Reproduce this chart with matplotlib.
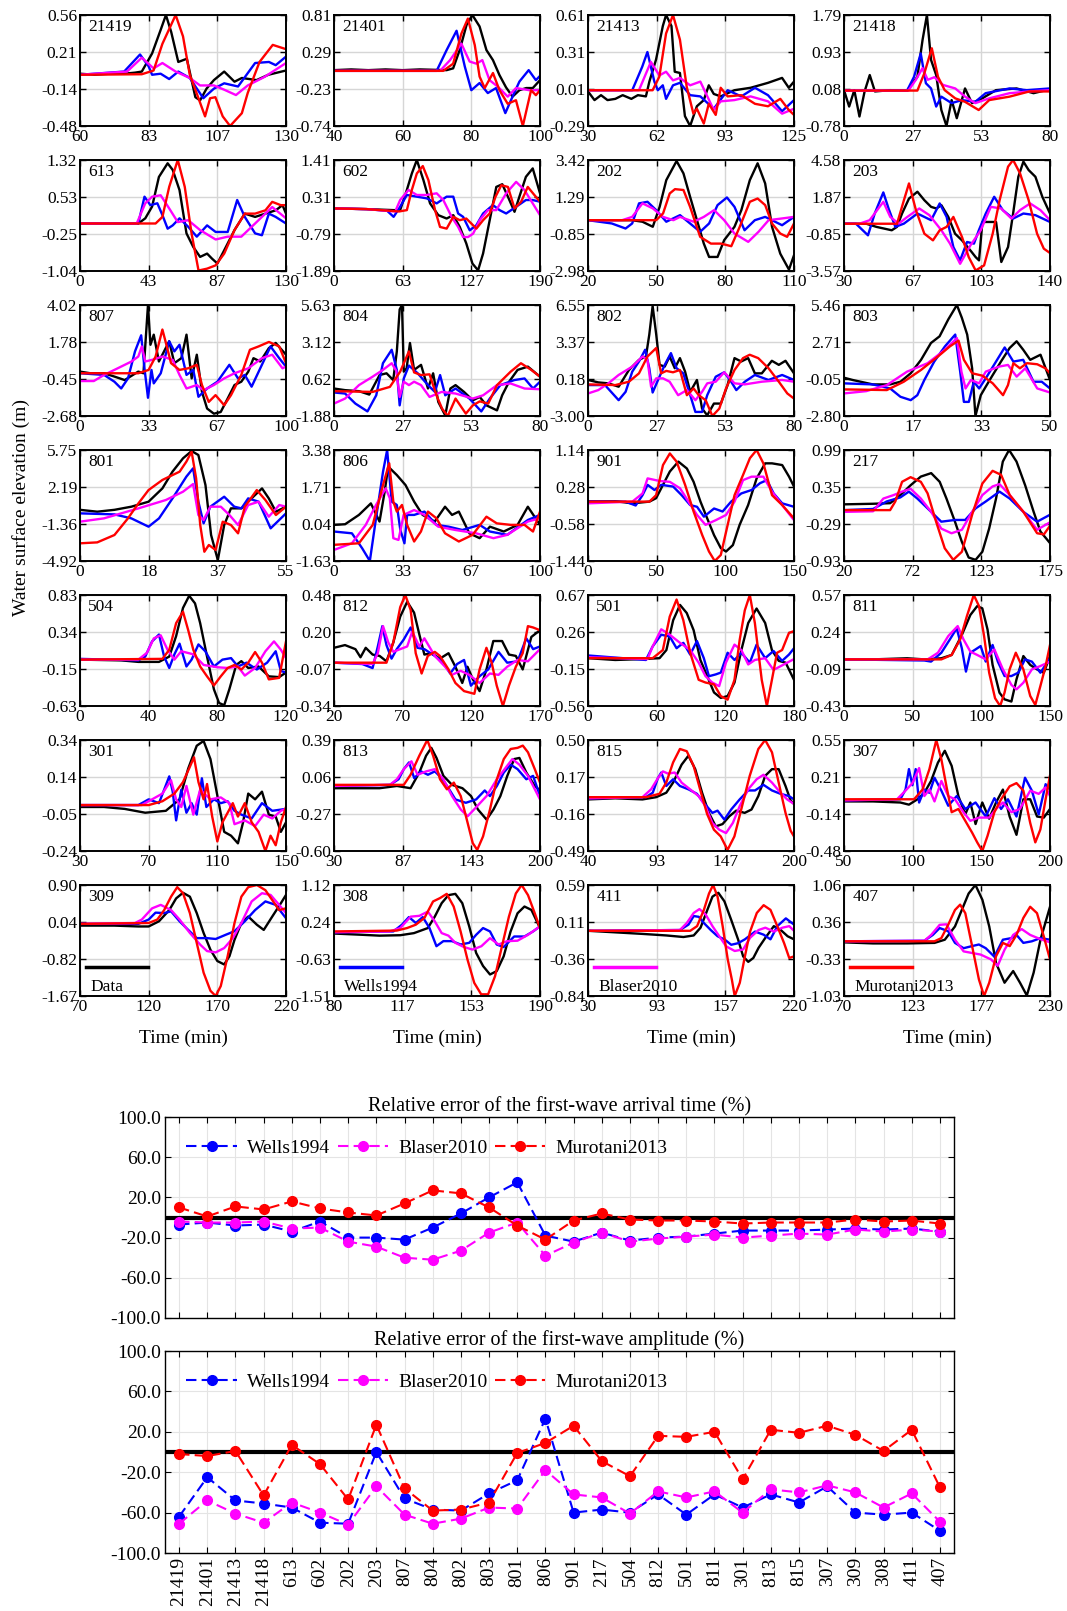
import matplotlib.pyplot as plt
import numpy as np

plt.rcParams['font.family'] = ['Liberation Serif', 'DejaVu Serif']

# station order, row by row in the grid (also the x order of the error plots)
stations = ['21419', '21401', '21413', '21418',
            '613', '602', '202', '203',
            '807', '804', '802', '803',
            '801', '806', '901', '217',
            '504', '812', '501', '811',
            '301', '813', '815', '307',
            '309', '308', '411', '407']

x_ticks = [[60, 83, 107, 130], [40, 60, 80, 100], [30, 62, 93, 125], [0, 27, 53, 80],
           [0, 43, 87, 130], [0, 63, 127, 190], [20, 50, 80, 110], [30, 67, 103, 140],
           [0, 33, 67, 100], [0, 27, 53, 80], [0, 27, 53, 80], [0, 17, 33, 50],
           [0, 18, 37, 55], [0, 33, 67, 100], [0, 50, 100, 150], [20, 72, 123, 175],
           [0, 40, 80, 120], [20, 70, 120, 170], [0, 60, 120, 180], [0, 50, 100, 150],
           [30, 70, 110, 150], [30, 87, 143, 200], [40, 93, 147, 200], [50, 100, 150, 200],
           [70, 120, 170, 220], [80, 117, 153, 190], [30, 93, 157, 220], [70, 123, 177, 230]]

y_ticks = [[-0.48, -0.14, 0.21, 0.56], [-0.74, -0.23, 0.29, 0.81], [-0.29, 0.01, 0.31, 0.61], [-0.78, 0.08, 0.93, 1.79],
           [-1.04, -0.25, 0.53, 1.32], [-1.89, -0.79, 0.31, 1.41], [-2.98, -0.85, 1.29, 3.42], [-3.57, -0.85, 1.87, 4.58],
           [-2.68, -0.45, 1.78, 4.02], [-1.88, 0.62, 3.12, 5.63], [-3.00, 0.18, 3.37, 6.55], [-2.80, -0.05, 2.71, 5.46],
           [-4.92, -1.36, 2.19, 5.75], [-1.63, 0.04, 1.71, 3.38], [-1.44, -0.58, 0.28, 1.14], [-0.93, -0.29, 0.35, 0.99],
           [-0.63, -0.15, 0.34, 0.83], [-0.34, -0.07, 0.20, 0.48], [-0.56, -0.15, 0.26, 0.67], [-0.43, -0.09, 0.24, 0.57],
           [-0.24, -0.05, 0.14, 0.34], [-0.60, -0.27, 0.06, 0.39], [-0.49, -0.16, 0.17, 0.50], [-0.48, -0.14, 0.21, 0.55],
           [-1.67, -0.82, 0.04, 0.90], [-1.51, -0.63, 0.24, 1.12], [-0.84, -0.36, 0.11, 0.59], [-1.03, -0.33, 0.36, 1.06]]

# time series, flat lists of (time, elevation) pairs
# obs = Data, wel = Wells1994, bla = Blaser2010, mur = Murotani2013
obs_21419 = [60,0.01, 65,0.0, 70,0.01, 75,0.01, 78.7,0.02, 81,0.03, 84.5,0.2, 87.4,0.42, 89.2,0.56, 91,0.4, 93.4,0.12, 96.3,0.15, 99.2,-0.21, 100.8,-0.24, 103,-0.13, 105.5,-0.05, 109,0.03, 112.5,-0.065, 115,-0.03, 120,-0.05, 124,0.0, 130,0.04]
wel_21419 = [60,0, 75,0.03, 80.4,0.19, 83.3,0.08, 84.5,0, 87.4,0.01, 90.3,-0.04, 93.4,0.03, 97.3,-0.03, 101.9,-0.22, 105.5,-0.13, 109,-0.08, 113.7,-0.11, 119.5,0.11, 124.2,0.12, 126.5,0.09, 130,0.17]
bla_21419 = [60,0, 76,0.03, 81,0.16, 85,0.06, 88,0.11, 92.5,0.03, 97.3,-0.03, 100.8,-0.1, 105.5,-0.1, 109,-0.14, 113,-0.19, 117,-0.1, 122.7,-0.02, 130,0.11]
mur_21419 = [60,0, 81,0.005, 85,0.04, 88,0.29, 92.5,0.56, 95,0.36, 97.3,0, 99.2,-0.14, 102.5,-0.39, 104.2,-0.22, 106,-0.21, 108.5,-0.39, 111,-0.48, 115,-0.36, 117,-0.17, 121,0.12, 125.5,0.28, 130,0.24]

obs_21401 = [40,0.04, 45,0.05, 50,0.04, 55,0.05, 60,0.04, 65,0.05, 72.8,0.04, 74.7,0.065, 76.6,0.32, 78.6,0.67, 80.3,0.81, 82.4,0.65, 84.4,0.32, 86.3,0.18, 88.2,-0.03, 90.1,-0.2, 92,-0.33, 94,-0.24, 96,-0.21, 97.9,-0.21, 100,-0.1]
wel_21401 = [40,0.03, 69.9,0.03, 72.8,0.32, 75.7,0.59, 78.1,0.09, 80,-0.24, 82.4,-0.14, 84.8,-0.28, 87.2,-0.21, 89.9,-0.56, 92,-0.33, 94,-0.12, 96.7,0.04, 98.8,-0.1, 100,-0.04]
bla_21401 = [40,0.03, 70.9,0.03, 73.8,0.18, 77.1,0.41, 79.5,0.16, 81.5,0.13, 83.2,0.18, 85.3,-0.1, 87.7,-0.19, 90.6,-0.33, 93,-0.21, 96.9,-0.24, 100,-0.24]
mur_21401 = [40,0.03, 71.8,0.03, 74.7,0.13, 77.1,0.55, 79,0.76, 81,0.39, 82.4,-0.05, 83.9,-0.21, 86.3,0.0, 88.2,-0.24, 90.6,-0.43, 93,-0.38, 95,-0.74, 97.4,-0.24, 98.8,-0.31, 100,-0.24]

obs_21413 = [30,-0.01, 33,-0.08, 36,-0.04, 39,-0.08, 42.6,-0.07, 46,-0.04, 50,-0.07, 53,-0.04, 56.7,-0.05, 58.3,0.07, 61.4,0.25, 64.5,0.52, 66,0.61, 68.5,0.52, 70,0.15, 72.4,0.14, 74.7,-0.21, 77.1,-0.29, 80.2,-0.13, 83.4,-0.08, 85.7,0.04, 88,-0.03, 91.2,-0.05, 97.5,0.0, 105,0.02, 113,0.06, 119.5,0.1, 122.6,0.02, 125,0.07]
wel_21413 = [30,0, 50.4,0, 55,0.19, 57.4,0.31, 60.6,0.07, 62.2,0, 64.5,0.04, 66,-0.07, 69.2,0.04, 72.4,0.06, 77.1,-0.04, 81.8,-0.05, 88,-0.15, 94.4,0, 100.7,-0.05, 107,0.02, 113,-0.04, 119.5,-0.17, 125,-0.08]
bla_21413 = [30,0, 53.5,0, 59,0.23, 62.9,0.12, 66,0.15, 69.2,0.08, 72.4,0.1, 77.1,0.04, 81.8,0.07, 88,-0.16, 91.2,-0.09, 97.5,-0.08, 105,-0.05, 113,-0.09, 119.5,-0.19, 125,-0.15]
mur_21413 = [30,0, 59.8,0, 62.9,0.11, 66,0.46, 69.2,0.61, 72.4,0.41, 75.5,0.03, 78.6,-0.19, 80.2,-0.15, 83.4,-0.27, 85.7,-0.11, 88.9,-0.2, 91.2,0.02, 94.4,-0.05, 100.7,-0.04, 107,-0.11, 113,-0.13, 118.7,-0.07, 122.6,-0.16, 125,-0.2]

obs_21418 = [0,0.05, 2,-0.33, 4,0.05, 6,-0.56, 8,0.02, 10,0.4, 12,0.02, 18,0.05, 24.5,0.04, 28.5,0.36, 30.5,1.21, 32.2,1.79, 33.8,0.75, 35.8,0.4, 37.8,-0.41, 39.8,-0.78, 41.8,-0.18, 43.8,-0.6, 47,0.09, 49.7,-0.25, 53.7,-0.14, 59,0.05, 67,0.09, 73.6,-0.02, 80,0.07]
wel_21418 = [0,0.04, 24.5,0.04, 27.2,0.36, 29.8,0.9, 31.8,0.21, 33.8,0.09, 35.8,-0.33, 37.8,-0.1, 41.8,-0.25, 45.8,-0.18, 51,-0.22, 55,-0.02, 64.3,0.09, 71,0.05, 80,0.09]
bla_21418 = [0,0.04, 25,0.04, 27.9,0.29, 30.5,0.56, 32.5,0.29, 35.1,0.35, 38.5,0.17, 43.2,0.09, 47,-0.1, 51,-0.25, 56.4,-0.14, 64.3,-0.02, 72,0.02, 80,0.05]
mur_21418 = [0,0.04, 28.5,0.04, 31.2,0.44, 34.1,1.02, 36.5,0.36, 39.1,0.05, 43.2,-0.14, 47,-0.22, 52.3,-0.41, 56.4,-0.18, 64.3,-0.1, 72,0.02, 80,0.02]

obs_613 = [0,-0.03, 20,-0.03, 36.8,-0.03, 41.2,0.08, 45.5,0.33, 49.8,0.96, 55.3,1.25, 58.5,1.11, 62.8,0.68, 67.2,-0.24, 71.5,-0.53, 75.8,-0.74, 80.2,-0.67, 83.4,-0.78, 86.7,-0.88, 91,-0.6, 97.5,-0.17, 104,0.18, 110.5,0.11, 117,0.18, 123.5,0.25, 127.8,0.36, 130,0.18]
wel_613 = [0,-0.03, 36.8,-0.03, 40.7,0.54, 44.4,0.36, 48.8,0.4, 52,0.15, 55.3,-0.14, 58.5,-0.07, 62.8,0.08, 68.3,-0.1, 73.7,-0.31, 80.2,-0.07, 85.6,-0.21, 93.2,-0.21, 99.2,0.47, 104,0.11, 110.5,-0.24, 114.8,-0.28, 119.2,0.18, 123.5,0.11, 130,-0.03]
bla_613 = [0,-0.03, 35.8,-0.03, 41.2,0.4, 45.5,0.54, 50.9,0.57, 56.3,0.29, 61.7,0.0, 68.3,0.04, 75.8,-0.17, 85.6,-0.37, 93.2,-0.31, 101.8,-0.31, 110.5,-0.03, 121.3,0.32, 130,0.08]
mur_613 = [0,-0.03, 47.7,-0.03, 52,0.11, 56.3,0.75, 61.7,1.32, 66.1,0.75, 70.4,-0.24, 74.8,-1.03, 80.2,-0.99, 85.6,-0.92, 91,-0.67, 97.5,-0.17, 104,0.18, 110.5,0.18, 117,0.25, 121.3,0.43, 126.7,0.36, 130,0.36]

obs_602 = [0,-0.03, 30,-0.05, 55,-0.08, 61,-0.08, 67.2,0.52, 71.8,1.01, 76.4,1.41, 82.5,0.81, 88.6,0.12, 96.2,-0.23, 103.9,-0.33, 110,-0.23, 116,-0.58, 122,-1.07, 127.7,-1.67, 132.9,-1.87, 137.5,-1.37, 143.6,-0.38, 149.7,0.61, 155.2,0.69, 160.4,0.32, 166.5,-0.13, 171,0.32, 177,0.91, 183.3,1.16, 190,0.42]
wel_602 = [0,-0.03, 30,-0.05, 49,-0.1, 55,-0.28, 61,0.02, 67.2,0.37, 76.4,0.32, 85.5,0.27, 94.7,0.12, 103.9,0.32, 110,0.32, 114.5,-0.18, 119.1,-0.28, 125.2,-0.68, 131.3,-0.53, 137.5,-0.18, 146.6,0.07, 152.7,-0.08, 158.8,-0.18, 168,0.02, 177,0.22, 183.3,0.22, 190,0.17]
bla_602 = [0,-0.03, 30,-0.05, 56.5,-0.12, 61,0.22, 68.7,0.52, 76.4,0.37, 85.5,0.37, 94.7,0.42, 100.8,0.22, 108.5,-0.28, 114.5,-0.58, 119.1,-0.88, 123.6,-0.88, 128.3,-0.78, 134.4,-0.38, 142,-0.08, 149.7,-0.08, 158.8,0.42, 168,0.76, 175.6,0.52, 183.3,0.12, 190,-0.23]
mur_602 = [0,-0.03, 30,-0.05, 60,-0.12, 67.2,-0.08, 71.8,0.52, 76.4,1.01, 81.9,1.23, 87.1,0.81, 93.2,-0.08, 97.8,-0.58, 103.9,-0.63, 110,-0.28, 116,-0.38, 122,-0.33, 126.7,-0.48, 131.3,-0.63, 137.5,-0.38, 143.6,-0.18, 149,0.32, 154.3,0.66, 160.4,0.61, 166.5,-0.03, 172.6,0.17, 178.7,0.61, 184.8,0.37, 190,0.17]

obs_202 = [20,-0.05, 30,-0.05, 39.3,-0.05, 43.8,-0.14, 48.3,-0.43, 51.3,0.72, 54.2,2.26, 58.7,3.36, 61.7,2.65, 64.6,1.3, 67.6,-0.05, 70.6,-1.4, 72.9,-2.17, 76.6,-2.17, 79.5,-1.2, 84,-0.43, 87,0.53, 90.7,2.26, 94.1,3.23, 97.4,2.07, 100.4,-0.43, 104,-1.98, 107.8,-2.9, 110,-2.07]
wel_202 = [20,-0.05, 30.4,-0.24, 36.4,-0.53, 39.3,-0.24, 42.3,0.92, 46,1.01, 49.8,0.53, 54.2,-0.14, 60.2,0.24, 64.6,-0.24, 69,-0.72, 72.9,-0.24, 76.6,0.82, 80.7,1.26, 84,0.72, 88.4,-0.63, 92.9,-0.05, 97.4,0.14, 104.8,-0.34, 110,0.14]
bla_202 = [20,-0.05, 34.9,-0.05, 39.3,0.14, 43.8,0.92, 48.3,0.63, 52.8,0.14, 57.3,-0.05, 60.2,0.14, 66.2,-0.14, 70.6,0.14, 75.1,0.53, 79.5,-0.05, 84,-0.82, 90,-1.3, 94.5,-0.72, 98.9,-0.05, 104.8,0.05, 110,0.14]
mur_202 = [20,-0.05, 49.8,-0.05, 52.8,0.34, 55.7,1.49, 58,1.74, 61.7,1.69, 64.6,0.72, 69,-1.01, 73.7,-1.4, 78.1,-1.4, 82.6,-1.55, 86.3,-0.43, 90.7,1.01, 94.1,1.2, 97.4,0.82, 100.4,-0.24, 104,-0.82, 107,-1.01, 110,-0.24]

obs_203 = [30,-0.1, 41.9,-0.1, 47.3,-0.33, 55.5,-0.58, 58.3,-0.33, 61,0.65, 64.7,1.75, 69.2,2.25, 72.9,1.63, 76.5,1.14, 79.3,1.02, 82,1.26, 85.7,0.4, 89.3,-0.83, 93,-1.32, 97.5,-2.06, 100.3,-2.55, 102.1,-2.79, 103.9,0.03, 111.2,0.03, 114,-2.91, 117.6,-1.81, 120.3,0.65, 123.1,3.35, 125.8,4.46, 128.6,3.84, 132.2,3.35, 135.9,1.88, 140,0.65]
wel_203 = [30,-0.1, 36.4,-0.1, 42.8,-0.95, 46.4,0.65, 51,2.2, 53.8,1.02, 57.4,-0.33, 62,-0.09, 69.2,0.65, 76.5,0.16, 81.1,1.39, 84.8,0.4, 88.4,-1.81, 92,-2.79, 95.7,-1.44, 99.4,-1.56, 102,-0.58, 105.7,0.65, 110.2,1.88, 114.8,0.9, 120.3,0.28, 125.8,0.65, 132.2,0.53, 140,0.03]
bla_203 = [30,-0.1, 38.2,-0.1, 43.7,0.16, 51,1.51, 54.7,0.4, 59.2,-0.09, 63.8,0.4, 70.2,1.02, 75.6,0.53, 82,-0.58, 86.6,-1.56, 92,-3.04, 97.5,-1.69, 103,-0.58, 108.4,1.14, 113.9,1.02, 119.4,0.28, 124,0.9, 129.4,1.39, 134.9,0.9, 140,0.16]
mur_203 = [30,-0.1, 58.3,-0.1, 62,1.63, 64.7,2.86, 68.4,0.9, 72.9,-0.83, 77.5,-1.32, 81.1,-0.58, 84.8,-0.33, 88.4,0.4, 93,-1.07, 96.6,-2.55, 100.3,-3.53, 104.8,-3.16, 109.4,-0.83, 113.1,1.63, 117.6,4.09, 120.3,4.58, 124,3.6, 128.6,1.63, 133.1,-0.83, 136.7,-1.93, 140,-2.25]

obs_807 = [0,0.0, 5,-0.1, 11.7,-0.1, 16.7,-0.3, 21.7,-0.51, 28.3,0.0, 30.8,-0.1, 33,4.02, 34.2,1.62, 35.8,2.23, 38.3,0.61, 40.8,1.22, 43.3,1.83, 45.8,0.51, 49.2,0.81, 51.7,2.23, 54.2,-0.41, 56.7,1.02, 59.2,-1.22, 61.7,-2.23, 65,-2.54, 68.3,-2.44, 71.7,-1.62, 75,-0.81, 78.3,-0.61, 81.7,0.0, 84.2,0.81, 87.5,0.61, 91.7,1.42, 95,1.73, 100,1.02]
wel_807 = [0,-0.1, 11.7,-0.2, 16.7,-0.61, 20,-1.02, 23.3,-0.41, 26.7,1.22, 29.7,2.19, 31.3,0.2, 33,-1.58, 34.7,0.1, 35.8,-0.71, 39.2,-0.1, 43.3,1.83, 45.8,1.22, 48.3,1.62, 51.7,-0.2, 55,0.1, 57.5,-1.52, 61.7,-1.02, 66.7,-0.61, 72.5,0.41, 76.7,-0.41, 80,-0.2, 83.3,-0.91, 88.3,0.41, 92.5,1.52, 96.7,0.81, 100,0.3]
bla_807 = [0,-0.57, 6.7,-0.57, 11.7,-0.2, 18.3,0.2, 25,0.61, 28.3,0.91, 30,1.52, 31.7,0.61, 35,0.71, 40,0.91, 45,0.71, 48.3,-0.2, 51.7,-1.02, 56.7,-0.81, 60,-1.12, 65,-0.81, 70,-0.41, 75,-0.1, 81.7,0.2, 88.3,0.81, 93.3,1.02, 98.3,0.2, 100,0.3]
mur_807 = [0,-0.1, 28.3,-0.1, 33.3,0.1, 36.7,0.91, 40,2.54, 41.7,1.73, 44.2,0.51, 48.3,0.1, 52.5,0.2, 56.7,0.41, 59.2,-0.81, 62.5,-1.83, 65.8,-1.42, 70,-2.03, 73.3,-1.42, 78.3,-0.2, 82.5,1.32, 86.7,1.52, 91.7,1.79, 96.7,1.52, 100,0.51]

obs_804 = [0,-0.02, 4.3,-0.13, 9.7,-0.2, 13.7,-0.43, 17.7,0.89, 20.4,1.01, 23,0.55, 24.4,2.49, 25.5,5.33, 26.4,5.63, 27.1,1.12, 28.2,1.35, 29.5,3.06, 31.1,1.24, 33.8,1.58, 36.5,-0.02, 38.5,1.01, 40.5,-0.93, 43.2,-1.84, 45.2,-0.02, 47.2,0.21, 50.5,-0.25, 53.9,-0.82, 56.6,-0.59, 59.2,-1.16, 63.3,-1.5, 65.3,-0.48, 68,0.44, 71.3,1.24, 75.3,1.46, 80,0.78]
wel_804 = [0,-0.29, 4.3,-0.36, 8.3,-1.04, 13,-1.57, 16.4,-0.48, 19,1.69, 22.4,2.6, 24.4,1.24, 25.5,-1.16, 27.1,0.66, 29.1,1.53, 32.5,1.01, 36.5,0.21, 39.2,-0.25, 41.2,0.89, 43.2,-0.48, 47.2,-0.02, 52.6,-0.7, 57.2,-1.57, 60.5,-0.7, 64.6,0.21, 70,0.55, 74,0.66, 77.3,-0.02, 80,0.44]
bla_804 = [0,-1.04, 4.3,-0.7, 9.7,0.21, 15,0.78, 19,1.24, 22.4,1.69, 24.2,1.17, 25.5,-0.59, 27.1,0.44, 29.1,0.21, 31.1,0.44, 33.8,0.21, 37.1,-0.59, 41.8,-0.25, 47.2,-0.36, 53.9,-0.7, 57.9,-0.48, 63.3,0.21, 68.6,0.32, 74,-0.02, 80,-0.07]
mur_804 = [0,-0.2, 15,-0.25, 21.7,0.09, 25.7,1.12, 29.1,2.49, 31.1,1.07, 33.8,0.89, 37.1,0.94, 39.8,-0.48, 42,-1.39, 44.2,-1.88, 47.2,-0.7, 51.2,-1.72, 53.9,-1.16, 56.6,-0.89, 59.9,-1.04, 63.3,0.21, 68.6,1.12, 72.6,1.69, 76.6,1.24, 80,0.78]

obs_802 = [0,0.1, 4,-0.11, 7.9,-0.19, 11.9,-0.48, 15.9,0.96, 19.8,1.83, 22.5,2.12, 23.8,4.0, 25.1,6.46, 26.5,4.0, 27.8,1.4, 29.8,1.25, 31.7,2.12, 33.7,1.11, 35.7,1.98, 37.7,0.82, 39.7,-0.92, 42.3,0.1, 44.3,-2.36, 46.3,-2.94, 48.9,-1.93, 51.6,-1.93, 54.2,-0.34, 56.9,1.98, 59.5,1.69, 62.2,1.98, 64.8,0.67, 67.5,0.67, 71.4,1.75, 74.1,1.4, 76.7,1.75, 80,0.67]
wel_802 = [0,-0.34, 6.6,-0.34, 11.9,-1.64, 14.6,-0.92, 17.2,0.82, 19.8,1.69, 22.2,2.7, 23.8,1.11, 25.1,-0.98, 27.2,0.1, 29.8,1.4, 32.2,2.41, 34.4,1.11, 37,0.67, 39.7,-1.21, 41.7,-2.65, 44.3,-2.65, 46.3,-1.21, 49.6,0.38, 52.9,0.76, 55.6,-0.05, 57.6,-0.77, 60.9,-0.05, 64.8,0.53, 70.1,0.1, 75.4,0.53, 80,0.1]
bla_802 = [0,-1.06, 4,-0.77, 7.9,-0.19, 11.9,0.53, 17.2,1.25, 21.2,2.12, 23.1,1.83, 24.5,-0.48, 26.5,0.24, 29.1,0.24, 31.7,-0.05, 35,-1.21, 38.4,-0.77, 41.7,-1.64, 44.3,-0.92, 46.3,-0.19, 49.6,-0.05, 52.9,0.76, 56.9,-0.19, 60.9,-0.28, 67.5,-0.05, 75.4,0.1, 80,-0.05]
mur_802 = [0,-0.28, 10.6,-0.34, 15.9,-0.05, 19.8,0.67, 23.1,2.12, 26.5,2.85, 28.4,0.67, 30.4,0.88, 33,0.76, 35.7,0.96, 38.4,-1.21, 41,-0.63, 43,-1.21, 45.7,-1.64, 48.3,-3.0, 51,-2.36, 53.6,-0.63, 56.9,0.96, 60.2,1.98, 62.8,2.27, 66.1,1.98, 70.1,1.11, 74.1,-0.05, 77.4,-1.06, 80,-1.5]

obs_803 = [0,0.05, 2.1,-0.12, 7,-0.45, 11.2,-0.45, 13.7,-0.25, 16.2,0.38, 18.7,1.38, 21.1,2.63, 23.2,3.13, 25.3,4.38, 27.4,5.46, 28.6,4.51, 29.9,3.26, 31.1,0.75, 31.9,-2.8, 33.2,-1.25, 34.4,-0.62, 36.1,0.25, 38.1,1.25, 40.2,2.26, 41.9,2.76, 43.5,2.13, 45.2,1.38, 47.7,1.76, 50,-0.12]
wel_803 = [0,-0.37, 7,-0.45, 11.2,-0.75, 13.7,-1.37, 16.2,-1.62, 17.8,-1.25, 19.5,-0.12, 21.9,1.25, 24.5,2.38, 27,3.26, 28.2,0.5, 29.1,-1.75, 30.3,-1.75, 31.5,-0.25, 32.8,-0.75, 34.4,0.0, 36.9,1.25, 39,2.3, 41.1,1.25, 43.5,1.38, 46,-0.25, 48,-0.25, 50,-0.75]
bla_803 = [0,-1.12, 5.4,-0.95, 10.4,-0.5, 15.3,0.5, 20.3,1.13, 24.5,2.13, 27.4,3.0, 28.5,0.5, 29.5,-0.75, 30.8,-0.12, 32.8,-0.37, 34.4,0.5, 37.7,0.88, 39.8,1.0, 41.9,0.13, 44,0.75, 46.9,-0.75, 50,-1.05]
mur_803 = [0,-0.82, 10.4,-0.87, 14.5,-0.25, 18.7,0.63, 22.8,1.63, 25.7,2.38, 27.8,2.81, 29.1,1.38, 31.1,0.38, 33.6,0.2, 36.1,-0.37, 38.6,-1.25, 39.8,-0.5, 41.1,1.13, 42.7,0.75, 44.4,1.13, 46.9,1.05, 48.9,0.75, 50,0.38]

obs_801 = [0,0.0, 4.6,-0.18, 9.2,0.0, 13.7,0.3, 18.3,0.78, 22,2.06, 24.7,3.67, 27.5,4.95, 29.8,5.65, 31.6,5.27, 33.5,2.38, 35,-2.42, 36.8,-4.83, 38.5,-1.46, 40.3,0.14, 43.1,0.14, 45.8,1.1, 48.6,2.06, 50.4,1.1, 52.3,-0.18, 55,0.3]
wel_801 = [0,-0.34, 9.2,-0.44, 13.7,-0.82, 18.3,-1.62, 21.1,-0.82, 24.7,1.1, 28.4,3.19, 30.2,3.99, 31.6,0.78, 33,-1.3, 34.8,0.3, 38.5,1.26, 41.2,0.3, 43.1,0.14, 44.9,1.1, 47.7,0.78, 50.9,-1.78, 55,-0.34]
bla_801 = [0,-1.14, 6.4,-0.82, 15.6,0.14, 22.9,0.94, 27.5,1.74, 30.2,2.48, 31.6,-0.5, 33,-0.98, 34.8,0.3, 37.6,0.3, 39.9,-0.5, 42.2,-1.46, 44.9,0.46, 47.7,0.78, 50.4,-0.66, 53.2,0.46, 55,0.3]
mur_801 = [0,-3.22, 4.6,-3.13, 9.2,-2.42, 12.8,-0.82, 15.6,0.62, 18.3,1.9, 22,2.87, 26.6,3.67, 28.4,4.63, 29.8,5.59, 31,3.03, 32.1,-1.46, 33.2,-4.03, 34.4,-3.38, 36.2,-3.86, 38.1,-1.14, 40.3,-1.46, 42.2,-2.26, 44,0.3, 47.2,1.9, 49.5,0.94, 52.3,-0.5, 55,0.3]

obs_806 = [0,0.0, 5.4,0.03, 12.1,0.45, 17.9,0.97, 22.1,0.15, 24.6,1.5, 26.3,2.63, 30.5,2.25, 34.7,1.8, 38.9,1.05, 43,0.45, 48.9,0.15, 53.9,0.82, 57.3,0.45, 60.6,0.6, 65.7,-0.38, 70.7,-0.6, 75.7,-0.08, 82.4,-0.3, 89.1,0.0, 94.1,0.82, 100,0.0]
wel_806 = [0,-0.3, 8.7,-0.38, 13.7,-1.06, 17.4,-1.63, 20.4,0.3, 23.8,2.4, 25.8,3.38, 28,1.05, 30.5,0.9, 32.2,-0.23, 34.2,-0.83, 35.5,0.45, 38.9,0.45, 43.9,0.6, 49.7,0.0, 55.6,-0.08, 62.3,-0.23, 70.7,0.0, 75.7,-0.3, 84.1,-0.45, 94.1,0.22, 100,0.45]
bla_806 = [0,-1.13, 8.7,-0.83, 15.4,0.0, 20.4,0.9, 25.1,1.65, 27.1,1.2, 28.8,-0.6, 31.3,-0.68, 33.8,0.45, 38.9,0.67, 43.9,0.45, 50.6,-0.08, 58.9,-0.23, 69,-0.38, 77.4,-0.6, 84.1,-0.45, 94.1,0.15, 100,0.3]
mur_806 = [0,-0.9, 12.1,-0.83, 18.8,0.0, 23.8,1.8, 26.8,2.78, 28.8,1.05, 30.5,0.6, 33,0.9, 35.5,0.0, 38.9,-0.75, 42.2,-0.3, 45.6,0.6, 49.7,0.3, 53.9,-0.38, 60.6,-0.75, 67.3,-0.45, 74,0.37, 79,0.07, 85.8,0.0, 92.5,0.0, 96.6,-0.3, 100,0.6]

obs_901 = [0,-0.06, 19.8,-0.05, 32.3,-0.1, 44.7,-0.06, 49.6,0.02, 54.6,0.33, 59.6,0.64, 65.8,0.87, 72,0.71, 76.9,0.4, 81.9,-0.06, 86.8,-0.45, 91.8,-0.84, 96.7,-1.14, 100.5,-1.22, 105.5,-1.07, 110.4,-0.6, 116.6,-0.14, 122.8,0.48, 129,0.83, 134,0.83, 141.4,0.79, 146.4,0.52, 150,0.29]
wel_901 = [0,-0.05, 27.3,-0.06, 34.7,-0.15, 39.7,0.09, 43.4,0.33, 48.4,0.21, 53.3,0.33, 62,0.29, 68.2,0.09, 74.4,-0.14, 79.4,-0.18, 84.4,-0.41, 91.8,-0.22, 98,-0.29, 104.2,-0.06, 111.6,0.13, 119.1,0.21, 125.3,0.37, 130.3,0.44, 135.2,0.13, 141.4,-0.1, 150,-0.18]
bla_901 = [0,-0.1, 32.3,-0.06, 39.7,0.13, 43.4,0.48, 52.1,0.42, 59.6,0.4, 67,0.25, 73.2,-0.06, 79.4,-0.37, 85.6,-0.6, 93.1,-0.49, 100.5,-0.37, 106.7,-0.06, 112.9,0.44, 119.1,0.52, 127.7,0.52, 134,0.17, 141.4,-0.14, 150,-0.49]
mur_901 = [0,-0.06, 44.7,-0.06, 49.6,0.09, 54.6,0.79, 59.6,1.06, 64.5,0.87, 70.7,0.33, 76.9,-0.29, 83.2,-0.84, 88.1,-1.22, 92.3,-1.44, 96.7,-1.3, 101.7,-0.6, 106.7,0.09, 112.9,0.56, 117.9,0.95, 122.8,1.14, 127.7,0.83, 134,0.09, 141.4,-0.14, 150,-0.45]

obs_217 = [20,0.05, 41.9,0.06, 54.7,0.07, 62.4,0.21, 70.1,0.38, 77.8,0.53, 85.6,0.59, 92,0.44, 97.1,0.15, 103.5,-0.25, 108.7,-0.6, 113.8,-0.87, 119,-0.91, 124.1,-0.77, 129.2,-0.37, 134.4,0.15, 139.5,0.79, 144.2,0.99, 149.8,0.79, 156.3,0.38, 162.7,-0.08, 167.8,-0.42, 175,-0.62]
wel_217 = [20,-0.05, 41.9,-0.03, 52.1,0.1, 62.4,0.17, 68.8,0.27, 75.2,0.15, 82.9,-0.02, 93.2,-0.25, 103.5,-0.22, 111.2,-0.22, 119,-0.02, 126.7,0.1, 137,0.27, 144.7,0.15, 155,-0.08, 165.3,-0.25, 175,-0.13]
bla_217 = [20,-0.08, 41.9,-0.07, 49.6,0.15, 57.3,0.21, 63.7,0.27, 70.1,0.32, 77.8,0.15, 85.6,-0.08, 93.2,-0.37, 100.9,-0.45, 108.7,-0.39, 116.4,-0.08, 124.1,0.21, 131.8,0.36, 137,0.4, 144.7,0.21, 155,-0.08, 165.3,-0.39, 175,-0.26]
mur_217 = [20,-0.05, 54.7,-0.05, 58.6,0.1, 63.7,0.44, 70.1,0.52, 77.8,0.44, 82.9,0.24, 89.3,-0.25, 95.8,-0.71, 102.2,-0.91, 108.7,-0.77, 116.4,-0.13, 124.1,0.41, 131.8,0.63, 138.2,0.56, 144.7,0.21, 155,-0.08, 165.3,-0.45, 170.4,-0.47, 175,-0.32]

obs_504 = [0,-0.02, 24,-0.03, 34,-0.05, 46,-0.05, 52,0.02, 56,0.29, 60,0.66, 63.6,0.82, 67,0.72, 70,0.46, 74,0.02, 78,-0.41, 81,-0.59, 84,-0.62, 87,-0.41, 91,-0.09, 94,-0.04, 98,-0.13, 104,-0.11, 110,-0.24, 116,-0.25, 120,-0.19]
wel_504 = [0,-0.01, 34,-0.03, 38,0.02, 42,0.22, 46,0.31, 49,0.02, 52,-0.13, 55,0.05, 58,0.19, 62,-0.11, 65,-0.02, 69,0.18, 73,0.09, 78,-0.11, 83,-0.02, 88,0.0, 92,-0.11, 97,-0.06, 103,-0.15, 109,-0.06, 114,0.09, 117,-0.17, 120,-0.19]
bla_504 = [0,-0.02, 34,-0.02, 39,0.07, 43,0.26, 47,0.3, 51,0.11, 55,-0.02, 59,0.09, 66,0.05, 72,-0.09, 80,-0.12, 86,-0.13, 92,-0.11, 96,-0.23, 102,-0.13, 108,0.09, 113,0.22, 117,0.11, 120,0.0]
mur_504 = [0,-0.02, 48,-0.01, 52,0.11, 56,0.46, 60,0.61, 63,0.37, 66,0.11, 70,-0.11, 74,-0.24, 78,-0.36, 82,-0.24, 86,-0.13, 90,-0.09, 94,-0.15, 98,-0.06, 102,0.08, 106,-0.06, 110,-0.28, 116,-0.26, 120,0.22]

obs_812 = [20,0.09, 28,0.11, 35.6,0.08, 39.3,0.02, 43.1,0.09, 48.1,0.04, 53.2,0.03, 58.2,-0.01, 63.2,0.13, 68.2,0.32, 73.3,0.43, 78.3,0.35, 82.1,0.19, 85.8,0.04, 90.9,0.05, 97.1,0.01, 103.4,0.05, 108.4,-0.05, 113.4,-0.17, 117.2,-0.05, 121,-0.14, 126,-0.23, 131,-0.07, 136,0.14, 142.4,0.14, 147.4,0.04, 152.4,0.03, 157.4,-0.07, 163.7,0.17, 170,0.22]
wel_812 = [20,-0.02, 40.6,-0.03, 48.1,-0.06, 51.9,0.1, 55.2,0.25, 58.2,0.11, 61.9,0.01, 65.7,0.08, 70.7,0.15, 75.8,0.24, 80.8,0.09, 85.8,0.08, 93.4,0.03, 99.6,-0.02, 104.6,-0.1, 109.6,-0.03, 114.7,0.0, 119.7,-0.19, 126,-0.12, 132.3,-0.07, 139.8,0.06, 146.1,-0.02, 153.7,-0.01, 160,0.16, 165,0.08, 170,0.1]
bla_812 = [20,-0.02, 48.1,-0.03, 51.9,0.05, 55.7,0.25, 59.5,0.13, 63.2,0.06, 68.2,0.08, 73.3,0.1, 77,0.21, 82.1,0.1, 85.8,0.16, 93.4,0.03, 100.9,-0.05, 105.9,-0.11, 112.2,-0.08, 118.5,-0.11, 126,-0.17, 133.5,-0.1, 139.8,-0.11, 146.1,-0.05, 153.7,0.0, 161.2,-0.01, 170,0.08]
mur_812 = [20,-0.02, 58.2,-0.02, 63.2,0.13, 68.2,0.39, 71.9,0.48, 75.8,0.37, 79.5,0.05, 83.8,-0.1, 88.3,0.03, 93.4,0.06, 97.1,0.03, 103.4,-0.07, 108.4,-0.17, 114.7,-0.23, 122.2,-0.25, 126,-0.07, 131,0.09, 134.8,-0.02, 138.5,-0.19, 143,-0.34, 147.4,-0.19, 152.4,-0.05, 157.4,0.05, 161.2,0.25, 165,0.24, 170,0.22]

obs_501 = [0,-0.03, 23.8,-0.05, 47.6,-0.04, 62.5,-0.03, 68.5,0.06, 74.4,0.39, 80.4,0.56, 86.3,0.47, 92.3,0.28, 98.2,-0.05, 104.2,-0.23, 110.1,-0.41, 116,-0.47, 122,-0.45, 128,-0.3, 134,0.06, 140,0.36, 147.3,0.52, 154.8,0.36, 160.7,0.06, 166.7,-0.06, 172.7,-0.08, 180,-0.27]
wel_501 = [0,0.0, 50.6,-0.05, 56.5,0.1, 64,0.23, 71.4,0.21, 77.4,0.08, 83.3,0.14, 89.3,0.01, 95.2,0.16, 101.2,-0.03, 105.7,-0.23, 111.6,-0.21, 116,-0.19, 122,0.03, 128,-0.05, 134,0.03, 141.4,-0.08, 147.3,0.12, 154.8,-0.03, 162.1,0.05, 169.6,-0.06, 175.6,0.01, 180,0.08]
bla_501 = [0,-0.02, 52,-0.04, 56.5,0.1, 64,0.29, 71.4,0.23, 80.4,0.14, 89.3,0.06, 96.7,-0.08, 102.7,-0.23, 108.6,-0.3, 114.6,-0.34, 120.5,-0.08, 128,0.12, 134,0.06, 140,-0.1, 145.8,-0.05, 154.8,-0.03, 162.1,-0.16, 171.1,-0.1, 180,-0.04]
mur_501 = [0,-0.03, 56.5,-0.03, 65.4,0.06, 71.4,0.43, 77.4,0.62, 83.3,0.39, 89.3,0.03, 96.7,-0.27, 102.7,-0.3, 110.1,-0.32, 116,-0.45, 122,-0.49, 128,-0.27, 132.5,0.17, 137,0.5, 141.4,0.67, 145.8,0.36, 151.8,-0.27, 156.3,-0.56, 160.7,-0.27, 165.2,0.03, 169.6,0.06, 175.6,0.25, 180,0.27]

obs_811 = [0,-0.01, 21.1,-0.01, 46,0.0, 58.5,-0.01, 70.9,0.0, 78.4,0.03, 85.8,0.21, 92,0.39, 97,0.47, 100.7,0.45, 104.5,0.26, 108.2,-0.06, 113.2,-0.31, 116.9,-0.37, 121.9,-0.39, 125.6,-0.19, 130.6,0.02, 135.6,-0.06, 140.5,-0.1, 145.5,-0.13, 150,0.02]
wel_811 = [0,-0.01, 58.5,-0.02, 63.4,-0.03, 70.9,0.05, 77.1,0.17, 82.1,0.27, 85.8,0.09, 88.8,-0.12, 92,0.05, 95.8,0.08, 99.5,0.11, 103.2,-0.03, 108.2,0.12, 112,-0.03, 116.9,-0.16, 121.9,-0.16, 126.9,-0.13, 131.8,-0.01, 136.8,-0.03, 143,-0.13, 150,0.0]
bla_811 = [0,-0.01, 61,-0.01, 68.4,0.05, 75.9,0.2, 82.8,0.29, 87,0.17, 92,0.06, 97,0.03, 103.2,-0.01, 109.5,0.08, 115.7,-0.1, 121.9,-0.24, 125.6,-0.28, 130.6,-0.22, 136.8,-0.1, 143,-0.07, 150,-0.03]
mur_811 = [0,-0.01, 70.9,-0.01, 78.4,0.03, 84.6,0.17, 89.5,0.38, 94.5,0.57, 98.3,0.47, 102,0.2, 105.7,-0.13, 110,-0.36, 113.7,-0.43, 116.9,-0.31, 120.6,-0.1, 125.1,0.05, 130.6,-0.1, 135.6,-0.34, 139.3,-0.42, 143,-0.25, 146.8,-0.07, 150,0.12]

obs_301 = [30,-0.01, 44,-0.01, 56,-0.02, 68,-0.04, 80,-0.03, 88,0.03, 93,0.19, 98,0.31, 102,0.335, 106,0.24, 110,0.05, 114,-0.14, 118,-0.16, 122,-0.2, 125,-0.09, 128,0.06, 132,0.03, 136,0.07, 140,-0.05, 144,-0.06, 147,-0.14, 150,-0.09]
wel_301 = [30,0.0, 64,0.0, 70,0.03, 76,0.01, 79,0.08, 82,0.15, 84,0.07, 86,-0.08, 89,0.08, 92,-0.04, 95,0.01, 98,-0.05, 101,0.14, 103.6,-0.01, 108,0.03, 112,0.01, 116,0.02, 120,-0.03, 124,-0.05, 130,-0.07, 136,0.01, 142,-0.03, 150,-0.02]
bla_301 = [30,0.0, 66,0.0, 72,0.03, 78,0.06, 83,0.13, 86,0.03, 89,-0.01, 92,0.1, 96,-0.05, 100,0.08, 106,0.03, 112,0.04, 117,0.01, 120,-0.1, 126,-0.08, 132,-0.11, 137,-0.05, 142,-0.07, 147,-0.03, 150,-0.02]
mur_301 = [30,0.0, 70,0.0, 78,0.02, 85,0.06, 90,0.12, 94,0.2, 96.4,0.25, 99,0.12, 102,0.03, 104,0.11, 107,-0.06, 110,-0.19, 113,-0.09, 116,-0.04, 119,0.01, 122,-0.06, 126,0.01, 130,-0.09, 134,-0.14, 138,-0.24, 141,-0.16, 144,-0.21, 147,-0.09, 150,-0.01]

obs_813 = [30,-0.04, 53.4,-0.04, 67.6,-0.04, 81.9,-0.02, 93.2,-0.04, 100.4,0.1, 106,0.25, 110.3,0.32, 114.6,0.23, 120.3,0.07, 127.4,-0.01, 136,-0.04, 143.1,-0.11, 148.8,-0.23, 155.9,-0.32, 161.6,-0.23, 167.3,-0.11, 173,0.07, 178.7,0.22, 183,0.23, 188.7,0.1, 195.7,-0.02, 200,-0.06]
wel_813 = [30,-0.02, 76.2,-0.01, 83.3,0.04, 87.6,0.13, 91.9,0.19, 96.2,0.05, 101.8,0.11, 107.5,0.08, 113.2,0.11, 118.9,0.05, 124.5,-0.04, 130.2,-0.14, 138.8,-0.17, 147.3,-0.14, 154.4,-0.06, 158.7,-0.11, 164.4,-0.02, 170.1,0.1, 175.8,0.17, 181.5,0.13, 188.7,0.04, 194.3,0.07, 200,-0.11]
bla_813 = [30,-0.02, 76.2,-0.01, 81.9,0.04, 87.6,0.13, 93.9,0.2, 99,0.08, 106,0.11, 113.2,0.13, 120.3,0.04, 127.4,-0.11, 134.6,-0.23, 140.3,-0.29, 147.3,-0.21, 155.9,-0.11, 164.4,0.04, 171.5,0.14, 177.2,0.22, 183,0.17, 190.1,0.07, 200,-0.14]
mur_813 = [30,-0.01, 87.6,-0.01, 93.2,0.08, 100.4,0.25, 107,0.39, 111.8,0.25, 117.5,0.04, 123.2,-0.05, 128.9,0.01, 134.6,-0.11, 140.3,-0.35, 144.5,-0.53, 148.2,-0.59, 153,-0.47, 158.7,-0.23, 164.4,0.04, 170.1,0.22, 175.8,0.31, 181.5,0.32, 185.8,0.34, 190.1,0.28, 195.7,0.13, 200,0.01]

obs_815 = [40,-0.03, 61.2,-0.02, 82.3,-0.03, 92.9,-0.01, 100.8,0.03, 106.1,0.12, 112.7,0.28, 118,0.36, 123.3,0.24, 128.6,0.03, 133.9,-0.15, 139.2,-0.27, 144.5,-0.25, 149.8,-0.18, 155.1,-0.13, 161.7,-0.15, 167,-0.12, 172.3,0.0, 177.6,0.18, 182.9,0.24, 188.1,0.24, 193.4,0.09, 197.4,-0.04, 200,-0.07]
wel_815 = [40,-0.02, 85,-0.01, 90.3,0.03, 94.3,0.16, 96.9,0.21, 100.8,0.09, 106.1,0.15, 111.4,0.09, 118,0.06, 124.6,0.02, 130,-0.06, 136.6,-0.15, 140.6,-0.13, 145.9,-0.21, 151.2,-0.12, 157.8,-0.03, 164.4,0.05, 169.7,0.05, 176.3,0.1, 182.9,0.05, 189.5,0.02, 196.1,0.0, 200,-0.03]
bla_815 = [40,-0.02, 82.3,-0.01, 89,0.06, 94.3,0.16, 98.2,0.22, 102.2,0.2, 107.4,0.21, 112.7,0.12, 119.3,0.06, 125.9,0.0, 131.2,-0.09, 136.6,-0.24, 141.9,-0.3, 147.2,-0.33, 152.5,-0.24, 157.8,-0.09, 164.4,0.06, 171,0.15, 176.3,0.19, 182.9,0.12, 189.5,0.03, 194.7,-0.03, 200,-0.07]
mur_815 = [40,-0.01, 85,-0.01, 95.5,0.02, 100.8,0.12, 106.1,0.3, 111.4,0.42, 116.7,0.4, 122,0.27, 127.3,0.05, 132.5,-0.16, 137.8,-0.3, 143.1,-0.36, 148.4,-0.48, 153.7,-0.36, 159,-0.12, 165.6,0.18, 172.3,0.42, 177.6,0.5, 182.9,0.39, 188.1,0.12, 193.4,-0.15, 197.4,-0.31, 200,-0.36]

obs_307 = [50,-0.02, 71.1,-0.02, 91,-0.03, 97.3,-0.05, 103.5,0.0, 108.5,0.06, 113.4,0.17, 118.4,0.34, 123.4,0.45, 128.4,0.31, 133.3,0.03, 138.3,-0.14, 142,-0.03, 145.8,-0.23, 150.7,-0.03, 155.7,-0.18, 160.7,-0.03, 165.7,0.09, 170.6,-0.16, 175.6,-0.33, 180.6,0.0, 185.6,0.0, 190.6,-0.16, 195.5,-0.17, 200,-0.09]
wel_307 = [50,-0.01, 91,0.0, 94.8,0.09, 97.3,0.28, 99.8,0.13, 102.2,0.28, 104.7,-0.03, 108.5,0.09, 112.2,0.06, 115.9,0.2, 120.9,0.08, 125.9,-0.06, 132.1,0.03, 138.3,-0.09, 145.8,-0.03, 153.2,-0.16, 159.5,0.01, 164.4,-0.09, 169.4,0.0, 175.6,-0.16, 181.8,0.2, 186.8,0.08, 191.8,-0.14, 196.8,0.14, 200,0.09]
bla_307 = [50,-0.01, 88.6,0.0, 94.8,0.08, 99.8,0.15, 104.7,0.29, 108.5,0.03, 112.2,0.09, 115.9,-0.02, 120.9,0.17, 125.9,0.03, 130.8,0.0, 137,-0.12, 142,-0.2, 148.3,-0.17, 155.7,-0.17, 160.7,-0.09, 165.7,-0.03, 171.9,-0.12, 178.1,-0.09, 185.6,0.08, 191.8,0.05, 196.8,0.11, 200,0.03]
mur_307 = [50,0.0, 101,0.0, 107.2,0.09, 112.2,0.28, 117.2,0.55, 120.9,0.37, 124.6,0.12, 128.4,-0.12, 133.3,-0.09, 138.3,-0.2, 143.3,-0.31, 147,-0.4, 150.7,-0.48, 154.5,-0.34, 159.5,-0.12, 164.4,0.0, 170.6,0.12, 175.6,0.15, 180.6,0.08, 185.6,-0.22, 189.3,-0.4, 193,-0.28, 196.8,0.0, 200,0.22]

obs_309 = [70,-0.04, 95,-0.04, 112.5,-0.06, 120,-0.06, 127.5,0.06, 135,0.32, 140,0.59, 145,0.72, 150,0.63, 155,0.25, 160,-0.21, 165,-0.6, 170,-0.86, 175,-0.94, 178.8,-0.75, 182.5,-0.37, 187.5,0.02, 192.5,0.17, 198.8,-0.02, 203.8,-0.14, 210,0.17, 216.3,0.48, 220,0.67]
wel_309 = [70,0.0, 112.5,0.0, 120,0.1, 125,0.26, 131.3,0.25, 136.3,0.29, 142.5,0.06, 148.8,-0.14, 155,-0.33, 162.5,-0.33, 168.8,-0.35, 176.3,-0.25, 182.5,-0.17, 190,0.06, 197.5,0.32, 205,0.52, 212.5,0.44, 220,0.13]
bla_309 = [70,0.0, 110,0.02, 115,0.1, 122.5,0.36, 128.8,0.44, 136.3,0.32, 142.5,0.1, 150,-0.21, 157.5,-0.48, 162.5,-0.63, 168.8,-0.66, 175,-0.56, 181.3,-0.33, 187.5,0.02, 195,0.52, 202.5,0.71, 208.8,0.67, 215,0.44, 220,0.25]
mur_309 = [70,0.0, 120,0.02, 126.3,0.1, 131.3,0.32, 136.3,0.63, 140.8,0.85, 145,0.71, 150,0.25, 155,-0.44, 160,-1.13, 165,-1.55, 168.8,-1.67, 172.5,-1.44, 177.5,-0.75, 182.5,0.02, 187.5,0.63, 192.5,0.85, 198.8,0.9, 205,0.78, 210,0.55, 215,0.32, 220,0.36]

obs_308 = [80,-0.03, 95.1,-0.06, 104.3,-0.08, 115.4,-0.07, 122.7,-0.02, 130.1,0.1, 133.8,0.37, 137.5,0.69, 141.1,0.88, 144.8,0.91, 148.5,0.69, 152.2,0.14, 155.9,-0.49, 159.6,-0.8, 163.3,-1.0, 166.9,-0.92, 170.6,-0.57, 174.3,0.02, 178,0.45, 181.7,0.61, 185.4,0.53, 190,0.1]
wel_308 = [80,0.0, 111.7,0.02, 116.3,0.18, 120,0.36, 123.7,0.22, 127.4,0.36, 131,0.1, 134.7,-0.33, 138.4,-0.21, 143,-0.21, 147.6,-0.29, 152.2,-0.25, 155.9,-0.06, 159.6,0.1, 163.3,0.02, 166.9,-0.29, 170.6,-0.35, 176.2,-0.1, 181.7,-0.1, 186.3,0.02, 190,0.14]
bla_308 = [80,0.0, 109.8,0.02, 115.4,0.1, 120.9,0.37, 125.6,0.39, 130.1,0.49, 133.8,0.26, 137.5,-0.02, 141.1,-0.08, 144.8,-0.25, 149.4,-0.35, 154,-0.41, 158.7,-0.33, 163.3,-0.14, 167.9,-0.29, 172.5,-0.21, 178,-0.2, 183.6,-0.06, 190,0.14]
mur_308 = [80,0.02, 113.5,0.04, 119,0.1, 123.7,0.18, 128.3,0.34, 132.9,0.73, 136.6,0.81, 140.2,0.91, 143.9,0.61, 147.6,0.02, 151.3,-0.65, 154.9,-1.2, 158.6,-1.47, 162.3,-1.47, 166,-1.04, 169.7,-0.33, 173.4,0.37, 177.1,0.92, 180.2,1.12, 183.6,0.88, 187.2,0.45, 190,0.1]

obs_411 = [30,0.0, 55.2,-0.02, 80.3,-0.04, 102.3,-0.06, 118,-0.08, 127.5,-0.06, 133.8,0.04, 140.1,0.27, 144.8,0.44, 150.2,0.49, 155.8,0.38, 162.1,0.14, 168.4,-0.11, 173.1,-0.33, 177.8,-0.4, 182.5,-0.35, 187.3,-0.22, 193.6,-0.09, 201.4,0.06, 207.8,0.01, 214.1,-0.07, 220,-0.11]
wel_411 = [30,0.0, 114.8,0.01, 122.7,0.08, 127.5,0.19, 132.2,0.18, 136.9,0.1, 143.2,0.01, 149.5,-0.07, 155.8,-0.11, 162.1,-0.18, 168.4,-0.16, 174.7,-0.11, 184.1,-0.01, 192,-0.05, 198.3,-0.11, 204.6,0.06, 212.5,0.16, 220,0.08]
bla_411 = [30,0.0, 114.8,0.01, 121.1,0.1, 127.5,0.23, 132.8,0.28, 138.5,0.21, 144.8,0.06, 151.1,-0.07, 157.4,-0.2, 165.3,-0.26, 173.1,-0.24, 179.5,-0.09, 187.3,0.01, 193.6,0.04, 201.4,-0.01, 209.3,0.04, 215.6,0.06, 220,0.0]
mur_411 = [30,0.0, 124.3,0.0, 130.6,0.06, 136.9,0.27, 141.6,0.48, 145.4,0.59, 149.5,0.44, 154.2,0.06, 158.9,-0.37, 162.7,-0.63, 165.3,-0.84, 170,-0.67, 174.7,-0.33, 179.5,-0.01, 185.7,0.23, 192,0.33, 198.3,0.27, 204.6,0.06, 210.9,-0.16, 215.6,-0.35, 220,-0.33]

obs_407 = [70,-0.02, 92.5,-0.04, 119.1,-0.04, 140.3,-0.03, 148.3,0.03, 156.2,0.28, 161.5,0.59, 166.8,0.9, 172.1,1.06, 177.5,0.78, 182.8,0.28, 188.1,-0.41, 194.7,-0.78, 201.4,-0.56, 206.7,-0.78, 212,-1.02, 217.3,-0.59, 222.6,0.03, 230,0.65]
wel_407 = [70,0.0, 132.4,0.01, 139,0.12, 144.3,0.25, 150.9,0.19, 156.2,-0.03, 162.9,-0.13, 169.5,-0.09, 174.8,-0.06, 180.1,-0.13, 186.8,-0.29, 193.4,0.03, 200,0.06, 204,0.12, 209.3,-0.03, 215.9,0.0, 222.6,0.06, 230,0.03]
bla_407 = [70,0.0, 132.4,0.01, 137.7,0.12, 144.3,0.31, 149.6,0.32, 156.2,0.03, 162.9,-0.19, 169.5,-0.22, 176.1,-0.25, 184.1,-0.34, 189.4,-0.46, 194.7,-0.16, 201.4,0.12, 208,0.23, 214.6,0.12, 222.6,0.04, 230,-0.02]
mur_407 = [70,0.0, 140.3,0.0, 145.6,0.06, 150.9,0.31, 156.2,0.59, 160.2,0.69, 164.2,0.53, 169.5,-0.09, 174.8,-0.72, 178.8,-1.03, 182.8,-0.78, 188.1,-0.28, 193.4,-0.03, 198.7,-0.09, 204,0.12, 209.3,0.44, 214.6,0.65, 219.9,0.53, 225.2,0.09, 230,-0.34]

# relative errors (%) of the first wave, station order as above
arrival_wells = [-7, -5, -8, -7, -14, -4, -20, -20, -22, -10, 4, 20, 35, -18,
                 -24, -15, -23, -20, -19, -16, -13, -13, -13, -12, -11, -12, -11, -14]
arrival_blaser = [-4, -5, -5, -4, -11, -10, -24, -29, -40, -42, -33, -15, -5, -38,
                  -25, -15, -24, -21, -19, -17, -20, -18, -16, -17, -12, -14, -12, -14]
arrival_murotani = [10, 1, 11, 8, 16, 9, 5, 2, 14, 27, 24, 10, -8, -22,
                    -3, 4, -2, -3, -3, -4, -6, -5, -5, -5, -2, -4, -3, -6]

amplitude_wells = [-64, -25, -48, -51, -55, -70, -71, 0, -46, -57, -58, -41, -28, 33,
                   -60, -57, -60, -42, -62, -42, -55, -42, -50, -34, -60, -62, -60, -78]
amplitude_blaser = [-71, -48, -61, -70, -50, -60, -72, -34, -62, -71, -66, -55, -56, -18,
                    -42, -45, -61, -39, -45, -39, -60, -37, -40, -33, -40, -55, -41, -69]
amplitude_murotani = [-2, -4, 1, -43, 7, -12, -47, 27, -36, -58, -57, -50, -1, 9,
                      26, -9, -24, 16, 15, 20, -27, 22, 19, 26, 17, 1, 22, -35]

model_names = ['Data', 'Wells1994', 'Blaser2010', 'Murotani2013']
colors = ['k', '#0000ff', '#ff00ff', '#ff0000']

series = {s: [globals()[p + s] for p in ('obs_', 'wel_', 'bla_', 'mur_')] for s in stations}

W, H = 1067, 1611
fig = plt.figure(figsize=(W / 100, H / 100), dpi=100)

col_left = [80, 334, 588, 844]
pw, ph = 206, 111

for k, st in enumerate(stations):
    r, c = divmod(k, 4)
    top = 15 + 145 * r
    ax = fig.add_axes([col_left[c] / W, 1 - (top + ph) / H, pw / W, ph / H])
    for vals, col in zip(series[st], colors):
        a = np.array(vals, dtype=float).reshape(-1, 2)
        ax.plot(a[:, 0], a[:, 1], color=col, lw=1.7)
    xt, yt = x_ticks[k], y_ticks[k]
    ax.set_xlim(xt[0], xt[-1])
    ax.set_ylim(yt[0], yt[-1])
    ax.set_xticks(np.linspace(xt[0], xt[-1], 4))
    ax.set_xticklabels([str(v) for v in xt])
    ax.set_yticks(np.linspace(yt[0], yt[-1], 4))
    ax.set_yticklabels(['%.2f' % v for v in yt])
    ax.grid(True, color='#d6d6d6', lw=1.0)
    ax.set_axisbelow(True)
    ax.tick_params(direction='in', top=True, right=True, length=4, width=1.0,
                   labelsize=12.5, pad=2)
    for sp in ax.spines.values():
        sp.set_linewidth(1.4)
    ax.text(0.04, 0.89, st, transform=ax.transAxes, fontsize=12.5, va='center')
    if r == 6:
        ax.plot([0.03, 0.33], [0.26, 0.26], transform=ax.transAxes,
                color=colors[c], lw=2.5)
        ax.text(0.05, 0.085, model_names[c], transform=ax.transAxes,
                fontsize=12.5, va='center')
        fig.text((col_left[c] + pw / 2) / W, 1 - 1038 / H, 'Time (min)',
                 ha='center', va='center', fontsize=14)

fig.text(21 / W, 1 - 508 / H, 'Water surface elevation (m)', rotation=90,
         ha='center', va='center', fontsize=14)

# error plots
idx = np.arange(len(stations))


def error_panel(top, bottom, title, wells, blaser, murotani, labels):
    ax = fig.add_axes([165 / W, 1 - bottom / H, (954 - 165) / W, (bottom - top) / H])
    ax.axhline(0, color='k', lw=3, zorder=1)
    for vals, col, name in zip([wells, blaser, murotani], colors[1:], model_names[1:]):
        ax.plot(idx, vals, color=col, ls=(0, (5, 2.5)), lw=1.5, marker='o',
                markersize=7, label=name, zorder=3)
    ax.set_xlim(-0.5, len(stations) - 0.5)
    ax.set_ylim(-100, 100)
    ax.set_yticks([-100, -60, -20, 20, 60, 100])
    ax.set_yticklabels(['%.1f' % v for v in [-100, -60, -20, 20, 60, 100]])
    ax.set_xticks(idx)
    if labels:
        ax.set_xticklabels(stations, rotation=90)
    else:
        ax.set_xticklabels([])
    ax.grid(True, color='#e4e4e4', lw=0.8)
    ax.set_axisbelow(True)
    ax.tick_params(direction='in', top=True, right=True, length=4, width=0.8,
                   labelsize=14, pad=3)
    for sp in ax.spines.values():
        sp.set_linewidth(1.0)
    ax.set_title(title, fontsize=14.5, pad=4)
    ax.legend(loc='center left', bbox_to_anchor=(0.005, 0.846), ncol=3, frameon=False,
              fontsize=14, handlelength=2.6, handletextpad=0.5, columnspacing=0.4,
              numpoints=1)
    return ax


error_panel(1117, 1318, 'Relative error of the first-wave arrival time (%)',
            arrival_wells, arrival_blaser, arrival_murotani, False)
error_panel(1351, 1553, 'Relative error of the first-wave amplitude (%)',
            amplitude_wells, amplitude_blaser, amplitude_murotani, True)

fig.savefig('out.png', dpi=100)
